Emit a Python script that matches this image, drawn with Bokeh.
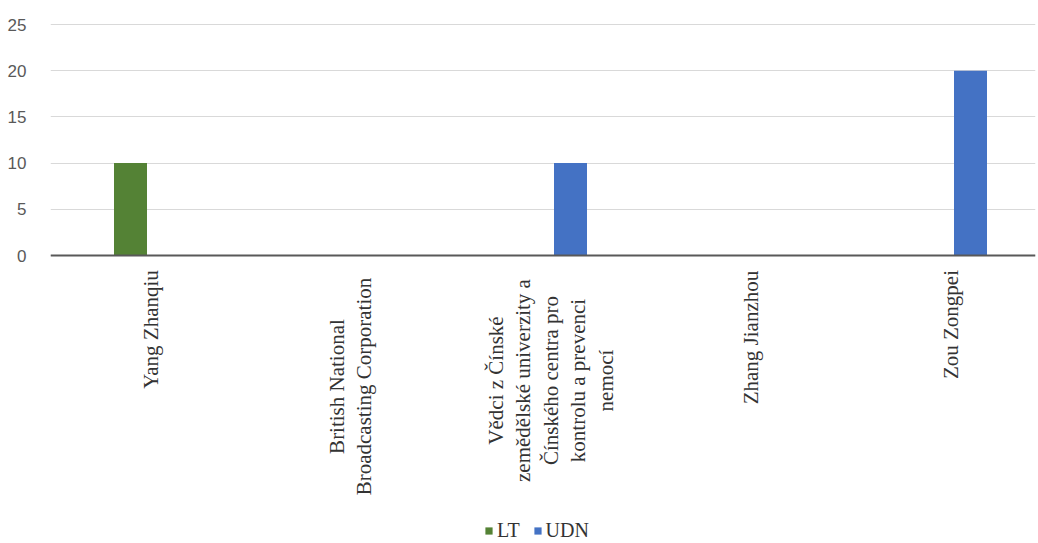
import math
from bokeh.plotting import figure
from bokeh.models import ColumnDataSource, Range1d, Legend, LegendItem, Label, Span
from bokeh.transform import dodge
from bokeh.embed import file_html
from bokeh.resources import INLINE

categories = [
    "Yang Zhanqiu",
    "British National Broadcasting Corporation",
    "Vědci z Čínské zemědělské univerzity a Čínského centra pro kontrolu a prevenci nemocí",
    "Zhang Jianzhou",
    "Zou Zongpei",
]
tick_labels = [
    "Yang Zhanqiu",
    "British National\nBroadcasting Corporation",
    "Vědci z Čínské\nzemědělské univerzity a\nČínského centra pro\nkontrolu a prevenci\nnemocí",
    "Zhang Jianzhou",
    "Zou Zongpei",
]
y_ticks = [0, 5, 10, 15, 20, 25]
lt_values = [10, 0, 0, 0, 0]
udn_values = [0, 0, 10, 0, 20]
series_names = ["LT", "UDN"]
series_colors = ["#548235", "#4472C4"]

# distance (px) from the baseline down to the middle of each rotated label block
label_centers = [74, 131, 125, 82, 69]
LINE_PITCH = 27.5

# one unit slot per category, the category sitting in the middle of its slot
slot_x = [i + 0.5 for i in range(len(categories))]
source = ColumnDataSource(data=dict(x=slot_x, cat=categories, LT=lt_values, UDN=udn_values))

# the frame reaches down to the page bottom so the category labels and the
# legend below the baseline are drawn inside it
p = figure(
    width=1038, height=543,
    x_range=Range1d(0, 4.925),
    y_range=Range1d(-31.17, 25.22),
    output_backend="svg", toolbar_location=None,
    min_border_left=50, min_border_right=3,
    min_border_top=22, min_border_bottom=0,
)
p.outline_line_color = None
p.background_fill_color = "white"
p.border_fill_color = "white"

r_lt = p.vbar(x=dodge("x", -0.1), top="LT", width=0.165,
              source=source, color=series_colors[0], line_color=None)
r_udn = p.vbar(x=dodge("x", 0.1), top="UDN", width=0.165,
               source=source, color=series_colors[1], line_color=None)

# grid
p.xgrid.grid_line_color = None
p.ygrid.grid_line_color = "#d9d9d9"
p.ygrid.grid_line_width = 1
p.yaxis.ticker = y_ticks

# y axis
p.yaxis.axis_line_color = None
p.yaxis.major_tick_line_color = None
p.yaxis.minor_tick_line_color = None
p.yaxis.major_label_standoff = 18
p.yaxis.major_label_text_font = "Liberation Sans"
p.yaxis.major_label_text_font_size = "17px"
p.yaxis.major_label_text_color = "#595959"

# category baseline
p.xaxis.visible = False
p.add_layout(Span(location=0, dimension="width", line_color="#595959", line_width=2))

# rotated category names, each line centred on the block's middle
for x, text, dy in zip(slot_x, tick_labels, label_centers):
    lines = text.split("\n")
    n = len(lines)
    for j, line in enumerate(lines):
        p.add_layout(Label(
            x=x, y=0, x_offset=(j - (n - 1) / 2) * LINE_PITCH, y_offset=-dy,
            text=line, angle=math.pi / 2,
            text_align="center", text_baseline="middle",
            text_font="Liberation Serif", text_font_size="21px",
            text_color="#333333", text_line_height=1.2,
        ))

legend = Legend(
    items=[LegendItem(label=series_names[0], renderers=[r_lt]),
           LegendItem(label=series_names[1], renderers=[r_udn])],
    orientation="horizontal",
    location=(434, 1),
    glyph_width=9, glyph_height=9,
    label_standoff=4, spacing=13, padding=0, margin=0,
    border_line_color=None, background_fill_alpha=0,
    label_text_font="Liberation Serif", label_text_font_size="20px",
    label_text_color="#333333",
)
p.add_layout(legend, "center")

open("out.html", "w").write(file_html(p, INLINE))
